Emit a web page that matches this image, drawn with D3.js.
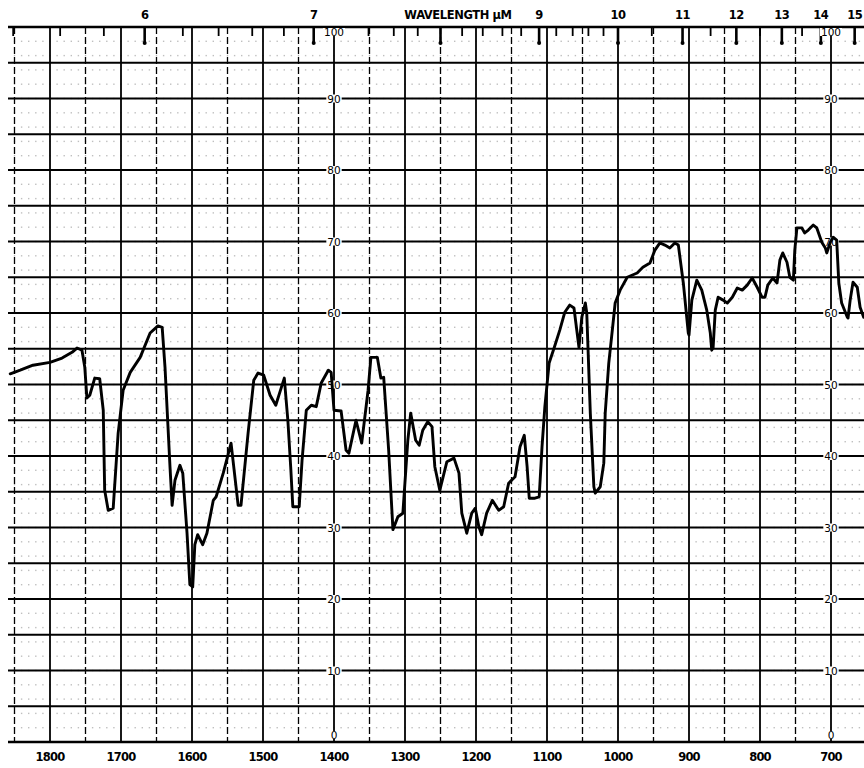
<!DOCTYPE html>
<html>
<head>
<meta charset="utf-8">
<script src="https://cdn.jsdelivr.net/npm/d3@7"></script>
<style>
  html, body { margin: 0; padding: 0; background: #fff; }
  svg { display: block; }
</style>
</head>
<body>
<svg id="chart" width="864" height="768"></svg>
<script>
// Infrared spectrum: wavenumber (cm-1) against percent transmittance
const wavenumber = [
  1856, 1842, 1824, 1800, 1783, 1769, 1762, 1755, 1751, 1748, 1744, 1737, 1730, 1725, 1723, 1718,
  1711, 1704, 1697, 1687, 1673, 1659, 1648, 1642, 1638, 1631, 1628, 1624, 1617, 1613, 1607, 1603,
  1599, 1596, 1592, 1585, 1579, 1570, 1566, 1556, 1545, 1535, 1531, 1521, 1513, 1507, 1499, 1490,
  1482, 1476, 1470, 1465, 1461, 1458, 1449, 1445, 1439, 1432, 1425, 1418, 1408, 1404, 1400, 1390,
  1383, 1379, 1369, 1361, 1352, 1348, 1339, 1334, 1330, 1323, 1317, 1310, 1303, 1296, 1292, 1285,
  1280, 1275, 1268, 1262, 1258, 1251, 1241, 1231, 1224, 1220, 1213, 1206, 1201, 1196, 1192, 1185,
  1177, 1168, 1161, 1154, 1145, 1138, 1132, 1128, 1125, 1117, 1111, 1107, 1103, 1097, 1090, 1082,
  1075, 1068, 1062, 1055, 1051, 1046, 1044, 1039, 1034, 1032, 1025, 1020, 1018, 1013, 1008, 1004,
  997, 987, 973, 965, 955, 948, 941, 934, 927, 920, 915, 908, 901, 900, 896, 889,
  882, 875, 870, 868, 866, 863, 859, 852, 846, 839, 832, 825, 818, 811, 804, 797,
  793, 789, 782, 776, 772, 768, 762, 758, 753, 751, 748, 741, 737, 732, 725, 720,
  713, 708, 706, 701, 697, 692, 689, 685, 677, 676, 673, 669, 663, 659, 654
];
const transmittance = [
  51.5, 52.0, 52.7, 53.1, 53.7, 54.5, 55.1, 54.8, 52.4, 48.1, 48.5, 50.9, 50.8, 46.4, 35.2, 32.4,
  32.7, 43.2, 49.2, 51.7, 53.8, 57.2, 58.2, 58.0, 52.4, 38.5, 33.1, 36.6, 38.7, 37.6, 29.2, 22.0,
  21.7, 27.6, 29.0, 27.6, 29.2, 33.8, 34.3, 37.6, 41.8, 33.1, 33.1, 43.2, 50.6, 51.6, 51.3, 48.5,
  47.1, 49.0, 50.9, 45.0, 38.5, 32.9, 32.9, 39.4, 46.4, 47.1, 46.9, 50.2, 52.0, 51.7, 46.4, 46.3,
  40.8, 40.4, 45.0, 41.8, 49.2, 53.8, 53.8, 50.9, 51.0, 40.8, 29.7, 31.5, 32.0, 42.2, 46.0, 42.2,
  41.5, 43.6, 44.8, 44.1, 38.5, 35.2, 39.2, 39.7, 37.6, 32.0, 29.2, 32.0, 32.7, 30.1, 29.0, 32.0,
  33.8, 32.4, 32.9, 36.2, 37.1, 41.3, 42.9, 38.5, 34.1, 34.1, 34.3, 41.3, 46.9, 53.0, 55.1, 57.6,
  60.1, 61.1, 60.7, 55.2, 59.4, 61.4, 60.0, 46.0, 35.7, 34.8, 35.7, 39.0, 46.0, 53.0, 57.6, 61.4,
  63.2, 65.0, 65.6, 66.4, 67.0, 68.8, 69.8, 69.5, 69.1, 69.8, 69.5, 64.2, 57.2, 56.9, 61.8, 64.6,
  63.2, 60.4, 57.2, 54.8, 55.2, 60.4, 62.2, 61.8, 61.4, 62.2, 63.5, 63.2, 63.9, 64.9, 63.6, 62.2,
  62.2, 63.9, 64.9, 64.2, 67.4, 68.4, 67.1, 65.0, 64.6, 68.8, 71.9, 71.9, 71.2, 71.6, 72.3, 71.9,
  69.9, 69.1, 68.4, 69.9, 70.6, 70.2, 64.2, 61.4, 59.4, 59.3, 61.8, 64.3, 63.6, 60.8, 59.4
];

// Axis ticks
const wavenumberLabels = [1800, 1700, 1600, 1500, 1400, 1300, 1200, 1100, 1000, 900, 800, 700];
const wavenumberHalf = [1850, 1750, 1650, 1550, 1450, 1350, 1250, 1150, 1050, 950, 850, 750, 650];
const percentLabels = [0, 10, 20, 30, 40, 50, 60, 70, 80, 90, 100];
const percentLines = [0, 5, 10, 15, 20, 25, 30, 35, 40, 45, 50, 55, 60, 65, 70, 75, 80, 85, 90, 95, 100];
const micronLabels = [6, 7, 9, 10, 11, 12, 13, 14, 15];
const micronTicks = [
  5.4, 5.6, 5.8, 6.0, 6.2, 6.4, 6.6, 6.8, 7.0, 7.2, 7.4, 7.6, 7.8, 8.0, 8.2, 8.4, 8.6, 8.8,
  9.0, 9.2, 9.4, 9.6, 9.8, 10.0, 10.5, 11.0, 11.5, 12.0, 12.5, 13.0, 13.5, 14.0, 14.5, 15.0
];
const axisTitle = "WAVELENGTH \u03bcM";

const svg = d3.select("#chart");
const W = 864, H = 768;
const left = 8, right = 864;

const x = d3.scaleLinear().domain([1800, 700]).range([50, 831]);
const y = d3.scaleLinear().domain([0, 100]).range([742, 27]);

svg.append("rect").attr("width", W).attr("height", H).attr("fill", "#fff");

svg.append("defs").append("clipPath").attr("id", "plot")
  .append("rect").attr("x", left).attr("y", 0).attr("width", right - left).attr("height", H);

const g = svg.append("g").attr("clip-path", "url(#plot)");

// faint dots of the fine chart-paper grid
const dotWn = d3.range(1850, 640, -10);
const dotPct = d3.range(2, 100, 2);
const dots = g.append("g").attr("fill", "#000").attr("fill-opacity", 0.25);
dotWn.forEach(w => {
  dotPct.forEach(p => {
    dots.append("rect").attr("x", x(w) - 0.7).attr("y", y(p) - 0.7).attr("width", 1.4).attr("height", 1.4);
  });
});

// horizontal rules every 5 %
g.append("g").selectAll("line").data(percentLines).join("line")
  .attr("x1", left).attr("x2", right)
  .attr("y1", d => y(d)).attr("y2", d => y(d))
  .attr("stroke", "#000")
  .attr("stroke-width", d => (d === 0 || d === 100) ? 2.6 : 2.1);

// solid verticals every 100 cm-1
g.append("g").selectAll("line").data(wavenumberLabels).join("line")
  .attr("x1", d => x(d)).attr("x2", d => x(d))
  .attr("y1", y(100)).attr("y2", y(0))
  .attr("stroke", "#000").attr("stroke-width", 1.8);

// dashed verticals at the half hundreds
g.append("g").selectAll("line").data(wavenumberHalf).join("line")
  .attr("x1", d => x(d)).attr("x2", d => x(d))
  .attr("y1", y(100)).attr("y2", y(0))
  .attr("stroke", "#000").attr("stroke-width", 1.3)
  .attr("stroke-dasharray", "7,3");

// wavelength ticks along the top edge
g.append("g").selectAll("line").data(micronTicks).join("line")
  .attr("x1", d => x(1e4 / d)).attr("x2", d => x(1e4 / d))
  .attr("y1", y(100))
  .attr("y2", d => Number.isInteger(d) ? y(100) + 16 : y(100) + 9)
  .attr("stroke", "#000")
  .attr("stroke-width", d => Number.isInteger(d) ? 2.6 : 1.8);

g.append("g").selectAll("circle").data(micronTicks.filter(d => Number.isInteger(d))).join("circle")
  .attr("cx", d => x(1e4 / d)).attr("cy", y(100) + 16).attr("r", 2).attr("fill", "#000");

// percent labels on the 1400 and 700 rules
[1400, 700].forEach(w => {
  const lab = g.append("g");
  percentLabels.forEach(p => {
    let cy = y(p);
    if (p === 100) cy += 5;
    if (p === 0) cy -= 7;
    const t = lab.append("text")
      .attr("x", x(w)).attr("y", cy)
      .attr("text-anchor", "middle").attr("dominant-baseline", "central")
      .attr("font-family", "DejaVu Sans, sans-serif")
      .attr("font-size", 10.5)
      .attr("fill", "#000")
      .text(p);
    const bb = t.node().getBBox();
    lab.insert("rect", "text")
      .attr("x", bb.x - 1).attr("y", bb.y + 2).attr("width", bb.width + 2).attr("height", bb.height - 4)
      .attr("fill", "#fff");
  });
});

// spectrum trace
const pts = wavenumber.map((w, i) => [w, transmittance[i]]);
g.append("path")
  .datum(pts)
  .attr("d", d3.line().x(d => x(d[0])).y(d => y(d[1])))
  .attr("fill", "none").attr("stroke", "#000")
  .attr("stroke-width", 2.9)
  .attr("stroke-linejoin", "round").attr("stroke-linecap", "round");

// bottom wavenumber labels
svg.append("g").selectAll("text").data(wavenumberLabels).join("text")
  .attr("x", d => x(d)).attr("y", 757)
  .attr("text-anchor", "middle").attr("dominant-baseline", "central")
  .attr("font-family", "DejaVu Sans, sans-serif").attr("font-weight", "bold")
  .attr("font-size", 11.5).attr("letter-spacing", -0.8)
  .attr("fill", "#000")
  .text(d => d);

// top wavelength labels and title
svg.append("g").selectAll("text").data(micronLabels).join("text")
  .attr("x", d => x(1e4 / d)).attr("y", 15)
  .attr("text-anchor", "middle").attr("dominant-baseline", "central")
  .attr("font-family", "DejaVu Sans, sans-serif").attr("font-weight", "bold")
  .attr("font-size", 11.5).attr("letter-spacing", -0.5)
  .attr("fill", "#000")
  .text(d => d);

svg.append("text")
  .attr("x", 458).attr("y", 15)
  .attr("text-anchor", "middle").attr("dominant-baseline", "central")
  .attr("font-family", "DejaVu Sans, sans-serif").attr("font-weight", "bold")
  .attr("font-size", 11.5).attr("letter-spacing", -0.4)
  .attr("fill", "#000")
  .text(axisTitle);
</script>
</body>
</html>
